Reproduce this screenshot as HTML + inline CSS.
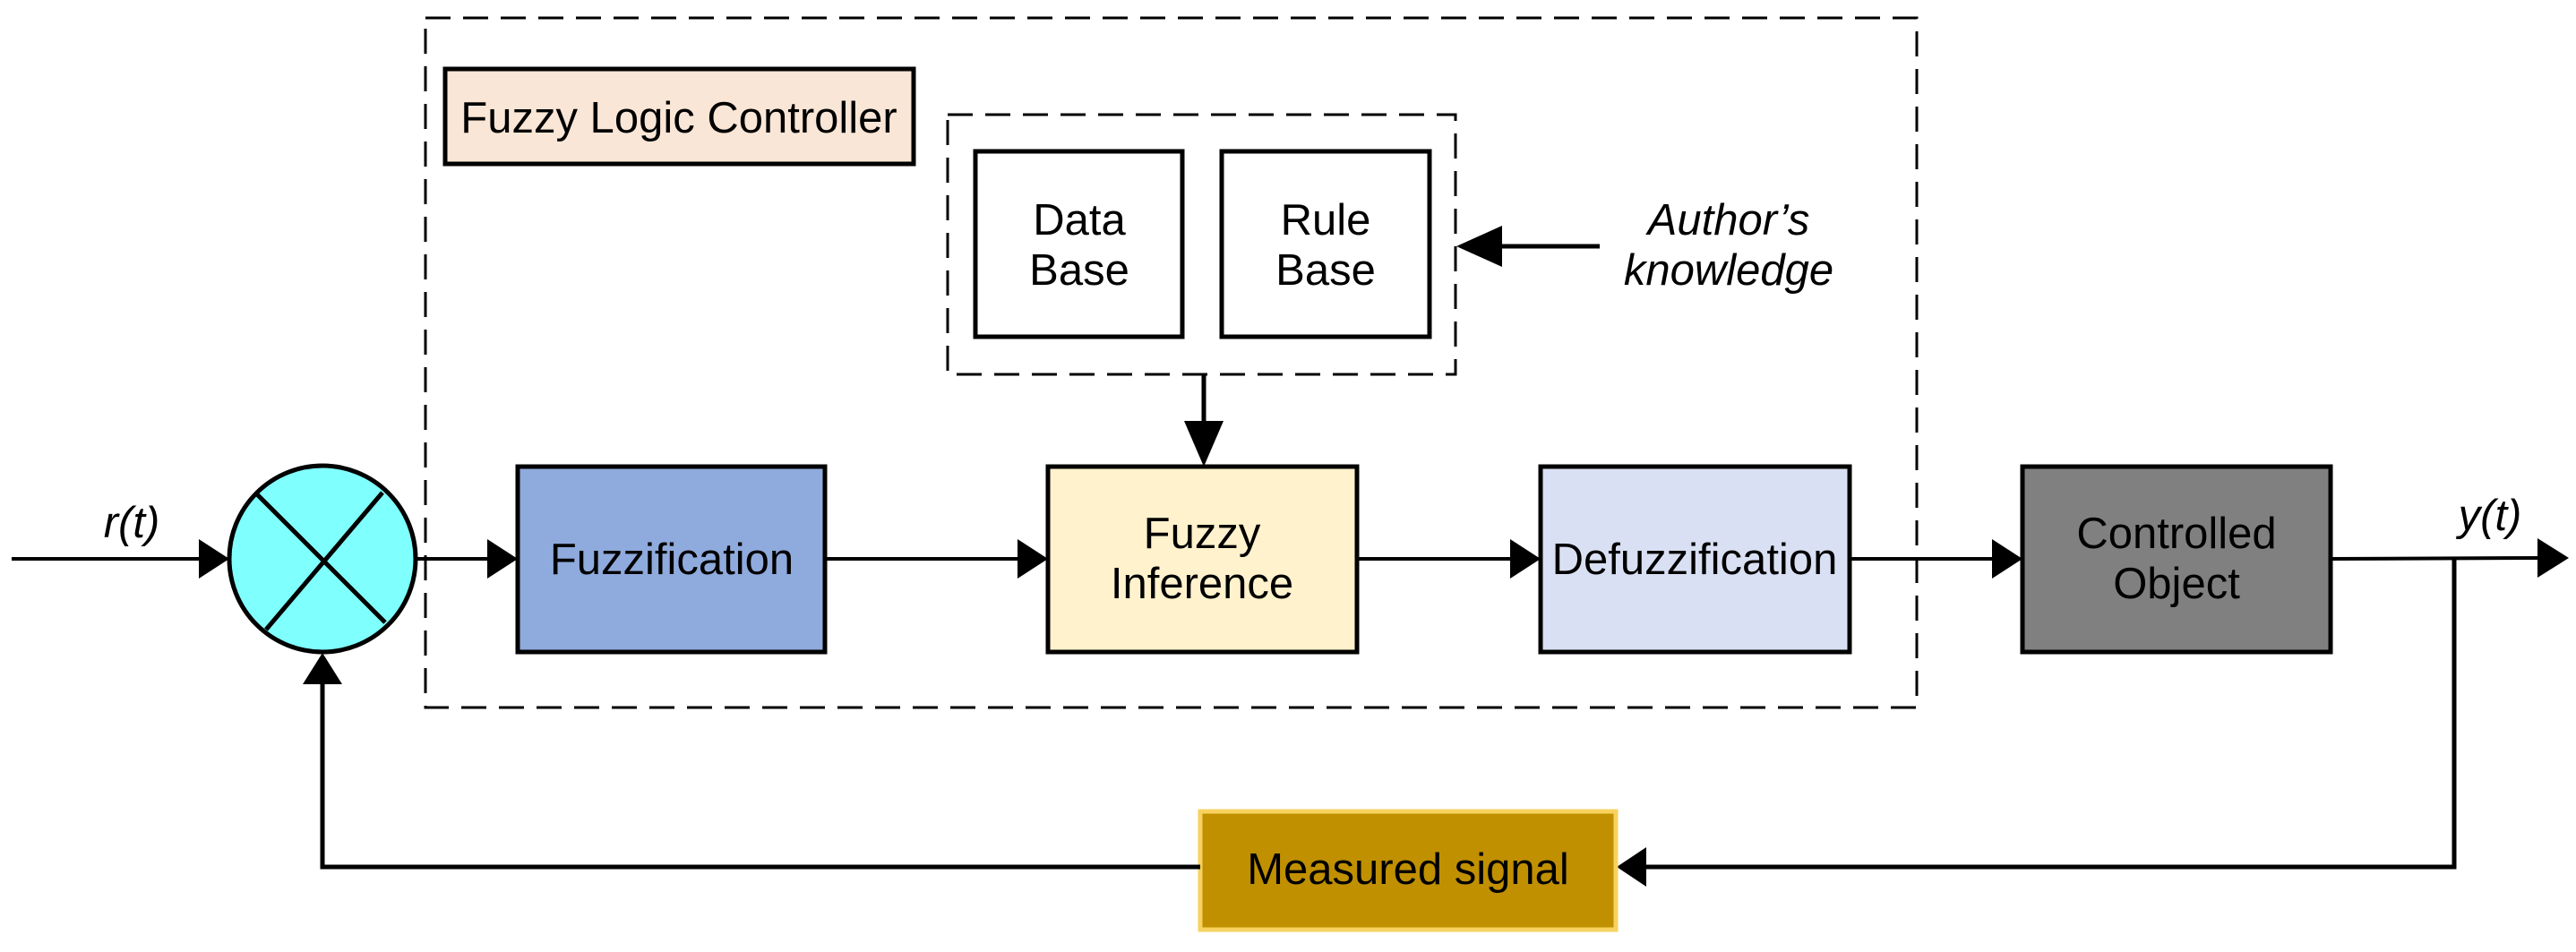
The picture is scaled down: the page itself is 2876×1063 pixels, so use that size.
<!DOCTYPE html>
<html><head><meta charset="utf-8"><style>
html,body{margin:0;padding:0;background:#fff;}
svg text{font-family:"Liberation Sans",sans-serif;font-size:49px;fill:#000;}
</style></head><body>
<svg width="2876" height="1058" viewBox="0 0 2876 1058" xmlns="http://www.w3.org/2000/svg">
<rect x="475" y="20" width="1665" height="770" fill="none" stroke="#000" stroke-width="3" stroke-dasharray="28,14"/>
<rect x="497" y="77" width="523" height="106" fill="#fae6d6" stroke="#000" stroke-width="5"/>
<text x="758" y="148" text-anchor="middle">Fuzzy Logic Controller</text>
<rect x="1058" y="128" width="567" height="290" fill="none" stroke="#000" stroke-width="3" stroke-dasharray="28,14"/>
<rect x="1089" y="169" width="231" height="207" fill="#fff" stroke="#000" stroke-width="5"/>
<text x="1205" y="262" text-anchor="middle">Data</text>
<text x="1205" y="318" text-anchor="middle">Base</text>
<rect x="1364" y="169" width="232" height="207" fill="#fff" stroke="#000" stroke-width="5"/>
<text x="1480" y="262" text-anchor="middle">Rule</text>
<text x="1480" y="318" text-anchor="middle">Base</text>
<line x1="1786" y1="275" x2="1660" y2="275" stroke="#000" stroke-width="5"/>
<polygon points="1626,275 1677,252 1677,298" fill="#000"/>
<text x="1930" y="262" text-anchor="middle" font-style="italic">Author’s</text>
<text x="1930" y="318" text-anchor="middle" font-style="italic">knowledge</text>
<line x1="1344" y1="418" x2="1344" y2="490" stroke="#000" stroke-width="5"/>
<polygon points="1344,521 1322,470 1366,470" fill="#000"/>
<line x1="13" y1="624" x2="230" y2="624" stroke="#000" stroke-width="4"/>
<polygon points="256,624 222,602 222,646" fill="#000"/>
<line x1="465" y1="624" x2="550" y2="624" stroke="#000" stroke-width="4"/>
<polygon points="578,624 544,602 544,646" fill="#000"/>
<line x1="921" y1="624" x2="1140" y2="624" stroke="#000" stroke-width="4"/>
<polygon points="1170,624 1136,602 1136,646" fill="#000"/>
<line x1="1515" y1="624" x2="1690" y2="624" stroke="#000" stroke-width="4"/>
<polygon points="1720,624 1686,602 1686,646" fill="#000"/>
<line x1="2065" y1="624" x2="2228" y2="624" stroke="#000" stroke-width="4"/>
<polygon points="2258,624 2224,602 2224,646" fill="#000"/>
<line x1="2602" y1="624" x2="2836" y2="623" stroke="#000" stroke-width="4"/>
<polygon points="2868,623 2833,601 2833,645" fill="#000"/>
<ellipse cx="360" cy="624" rx="104" ry="104" fill="#80ffff" stroke="#000" stroke-width="5"/>
<line x1="286" y1="551" x2="430" y2="695" stroke="#000" stroke-width="5"/>
<line x1="427" y1="550" x2="297" y2="703" stroke="#000" stroke-width="5"/>
<text x="147" y="600" text-anchor="middle" font-style="italic">r(t)</text>
<text x="2780" y="592" text-anchor="middle" font-style="italic">y(t)</text>
<rect x="578" y="521" width="343" height="207" fill="#8faadc" stroke="#000" stroke-width="5"/>
<text x="750" y="641" text-anchor="middle">Fuzzification</text>
<rect x="1170" y="521" width="345" height="207" fill="#fff2cc" stroke="#000" stroke-width="5"/>
<text x="1342" y="612" text-anchor="middle">Fuzzy</text>
<text x="1342" y="668" text-anchor="middle">Inference</text>
<rect x="1720" y="521" width="345" height="207" fill="#dae0f3" stroke="#000" stroke-width="5"/>
<text x="1892" y="641" text-anchor="middle">Defuzzification</text>
<rect x="2258" y="521" width="344" height="207" fill="#808080" stroke="#000" stroke-width="5"/>
<text x="2430" y="612" text-anchor="middle">Controlled</text>
<text x="2430" y="668" text-anchor="middle">Object</text>
<polyline points="2740,624 2740,968 1835,968" fill="none" stroke="#000" stroke-width="5"/>
<polygon points="1805,968 1838,946 1838,990" fill="#000"/>
<rect x="1340" y="906" width="464" height="132" fill="#c09000" stroke="#f7d25e" stroke-width="5"/>
<text x="1572" y="987" text-anchor="middle">Measured signal</text>
<polyline points="1340,968 360,968 360,760" fill="none" stroke="#000" stroke-width="5"/>
<polygon points="360,729 338,764 382,764" fill="#000"/>
</svg>
</body></html>
